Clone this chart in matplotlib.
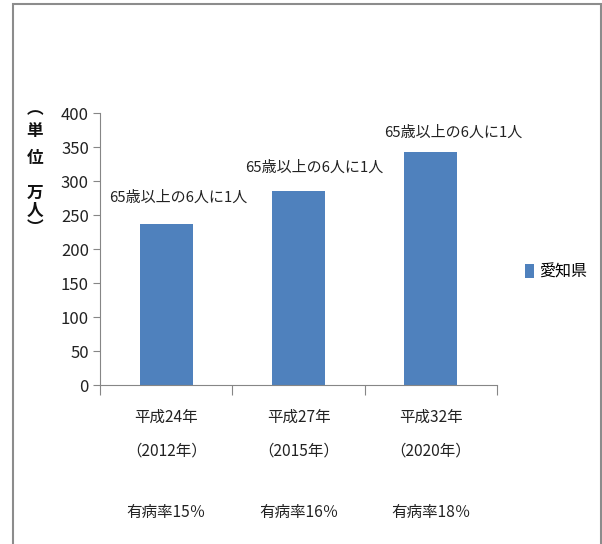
import matplotlib
matplotlib.use("Agg")
import matplotlib.pyplot as plt
from matplotlib.patches import Rectangle

plt.rcParams['font.family'] = ['Noto Sans CJK JP', 'DejaVu Sans']

# data
eras = ["平成24年", "平成27年", "平成32年"]
years = ["（2012年）", "（2015年）", "（2020年）"]
patients = [237, 286, 343]
notes = ["65歳以上の6人に1人", "65歳以上の6人に1人", "65歳以上の6人に1人"]
rates = ["有病率15％", "有病率16％", "有病率18％"]
yticks = [0, 50, 100, 150, 200, 250, 300, 350, 400]
series_name = "愛知県"
ylabel_chars = ["︵", "単", "位", "万", "人", "︶"]

bar_color = "#4F81BD"
axis_color = "#868686"
text_color = "#222222"

W, H = 602, 544
fig = plt.figure(figsize=(W/100, H/100), dpi=100)
ax = fig.add_axes([100/W, 1-385/H, 397/W, 272/H])

x = list(range(len(eras)))
ax.bar(x, patients, width=0.4, color=bar_color, label=series_name)

# text over the bars (offsets in pixels, as in the original)
dx = [12, 16, 22]
dy = [26, 23, 19]
for i, (v, t) in enumerate(zip(patients, notes)):
    ax.annotate(t, (i, v), xytext=(dx[i]*0.72, dy[i]*0.72), textcoords="offset points",
                ha="center", va="center", fontsize=10.8, color=text_color)

ax.set_xlim(-0.5, 2.5)
ax.set_ylim(0, 400)
ax.set_yticks(yticks)
ax.tick_params(axis="y", colors=axis_color, length=5, labelsize=12, labelcolor=text_color, pad=3)

# category boundaries as tick marks
ax.set_xticks([-0.5, 0.5, 1.5, 2.5])
ax.set_xticklabels([])
ax.tick_params(axis="x", colors=axis_color, length=7)

tr = ax.get_xaxis_transform()
for i in x:
    ax.text(i, -32/272, eras[i], transform=tr, ha="center", va="center",
            fontsize=11.2, color=text_color)
    ax.text(i, -66/272, years[i], transform=tr, ha="center", va="center",
            fontsize=11.2, color=text_color)
    ax.text(i, -128/272, rates[i], transform=tr, ha="center", va="center",
            fontsize=11.2, color=text_color)

for s in ["top", "right"]:
    ax.spines[s].set_visible(False)
for s in ["left", "bottom"]:
    ax.spines[s].set_color(axis_color)

# vertical unit label, one character per row
label_y = [109, 131, 158, 193, 211, 228]
for ch, yy in zip(ylabel_chars, label_y):
    fig.text(35/W, 1-yy/H, ch, ha="center", va="center",
             fontsize=12, fontweight="bold", color="#111111")

fig.legend(loc="center left", bbox_to_anchor=(511/W, 1-272/H), frameon=False,
           handlelength=0.55, handleheight=0.9, handletextpad=0.3, fontsize=11.5)

# outer frame
fig.patches.append(Rectangle((12.5/W, -0.05), 588/W, 1.05-3.5/H, transform=fig.transFigure,
                             fill=False, edgecolor="#8c8c8c", linewidth=1.5))

fig.savefig("out.png", dpi=100)
